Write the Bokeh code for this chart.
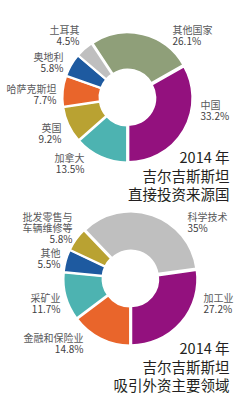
import math
from bokeh.plotting import figure
from bokeh.models import Range1d
from bokeh.core.properties import value
from bokeh.embed import file_html
from bokeh.resources import INLINE

# ---- data ----
src_names = ["中国", "加拿大", "英国", "哈萨克斯坦", "奥地利", "土耳其", "其他国家"]
src_values = [33.2, 13.5, 9.2, 7.7, 5.8, 4.5, 26.1]
src_colors = ["#93117e", "#4db3b1", "#b9a232", "#e9652b", "#1e5aa0", "#bfbfbf", "#8f9f79"]
src_title = ["2014 年", "吉尔吉斯斯坦", "直接投资来源国"]

sec_names = ["加工业", "金融和保险业", "采矿业", "其他", "批发零售与\n车辆维修等", "科学技术"]
sec_values = [27.2, 14.8, 11.7, 5.5, 5.8, 35.0]
sec_colors = ["#93117e", "#e9652b", "#4db3b1", "#1e5aa0", "#b9a232", "#bfbfbf"]
sec_title = ["2014 年", "吉尔吉斯斯坦", "吸引外资主要领域"]

# ---- layout (pixel positions, y measured from top) ----
W, H = 240, 398
FONT = "Noto Sans CJK SC"

src_center = (127, 97)
sec_center = (130, 278)
r_out_src, r_in_src = 64, 27
r_out_sec, r_in_sec = 66, 27

# label anchors: (x, y of first line, align)
src_label_pos = [(200, 104, "left"), (84, 157, "right"), (61, 127, "right"),
                 (56, 88, "right"), (63, 56, "right"), (79, 29, "right"),
                 (172, 29, "left")]
sec_label_pos = [(203, 297, "left"), (83, 337, "right"), (60, 297, "right"),
                 (60, 252, "right"), (72, 216, "right"), (187, 216, "left")]
src_title_pos = (229, 156)
sec_title_pos = (229, 347)
LINE = 11.2
TLINE = 18.5


def Y(py):
    return H - py


p = figure(width=W, height=H, x_range=Range1d(0, W), y_range=Range1d(0, H),
           output_backend="svg", toolbar_location=None,
           x_axis_type=None, y_axis_type=None,
           min_border=0, min_border_left=0, min_border_right=0,
           min_border_top=0, min_border_bottom=0)
p.grid.visible = False
p.outline_line_color = None
p.background_fill_color = "white"
p.border_fill_color = "white"


def donut(center, values, colors, r_in, r_out):
    total = sum(values)
    cw = 180 - values[0] / total * 360.0  # first slice ends at 6 o'clock
    xs, ys, sa, ea = [], [], [], []
    for v in values:
        a0 = cw
        a1 = cw + v / total * 360.0
        mid = math.radians(90 - (a0 + a1) / 2)
        d = 1.0
        xs.append(center[0] + d * math.cos(mid))
        ys.append(Y(center[1]) + d * math.sin(mid))
        sa.append(math.radians(90 - a0))
        ea.append(math.radians(90 - a1))
        cw = a1
    p.annular_wedge(x=xs, y=ys, inner_radius=r_in, outer_radius=r_out,
                    start_angle=sa, end_angle=ea, direction="clock",
                    fill_color=colors, line_color="white", line_width=2)


def labels(names, values, pos):
    for name, v, (x, y, align) in zip(names, values, pos):
        lines = name.split("\n") + [f"{v:g}%"]
        for i, t in enumerate(lines):
            is_pct = i == len(lines) - 1
            p.text(x=[x], y=[Y(y + i * LINE)], text=[t],
                   text_font=value(FONT), text_font_size="10px",
                   text_color="#414042" if is_pct else "#58595b",
                   text_align=align, text_baseline="middle")


def title(lines, pos):
    for i, t in enumerate(lines):
        p.text(x=[pos[0]], y=[Y(pos[1] + i * TLINE)], text=[t],
               text_font=value(FONT), text_font_size="14.5px",
               text_color="#231f20", text_align="right", text_baseline="middle")


donut(src_center, src_values, src_colors, r_in_src, r_out_src)
donut(sec_center, sec_values, sec_colors, r_in_sec, r_out_sec)
labels(src_names, src_values, src_label_pos)
labels(sec_names, sec_values, sec_label_pos)
title(src_title, src_title_pos)
title(sec_title, sec_title_pos)

open("out.html", "w").write(file_html(p, INLINE))
